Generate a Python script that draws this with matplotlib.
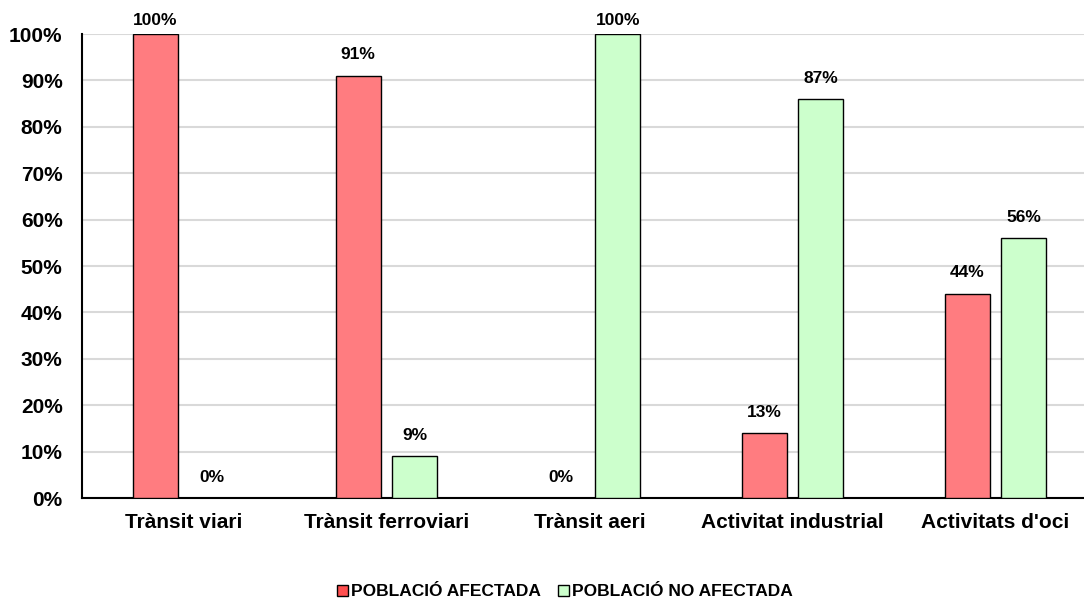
import numpy as np
import matplotlib.pyplot as plt
from matplotlib.patches import Patch

categories = ['Trànsit viari', 'Trànsit ferroviari', 'Trànsit aeri',
              'Activitat industrial', "Activitats d'oci"]
afectada = [100, 91, 0, 14, 44]
no_afectada = [0, 9, 100, 86, 56]
labels_afectada = ['100%', '91%', '', '13%', '44%']
labels_no_afectada = ['0%', '9%', '100%', '87%', '56%']
label_zero_afectada = '0%'

red = '#FF7C80'
green = '#CCFFCC'

plt.rcParams['font.family'] = ['Liberation Sans', 'DejaVu Sans']
plt.rcParams['font.weight'] = 'bold'

fig = plt.figure(figsize=(10.84, 6.01), dpi=100)
ax = fig.add_axes([82 / 1084, 1 - 498 / 601, 1 - 82 / 1084, (498 - 34) / 601])

x = np.arange(len(categories))
w = 0.222
off = 0.140
ax.bar(x - off, afectada, w, color=red, edgecolor='black', linewidth=1, zorder=3)
ax.bar(x + off, no_afectada, w, color=green, edgecolor='black', linewidth=1, zorder=3)

for i in range(len(categories)):
    la = labels_afectada[i] if afectada[i] > 0 else label_zero_afectada
    ax.text(x[i] - off, min(afectada[i] + 4.5, 103), la, ha='center', va='center',
            fontsize=12.5, fontweight='bold')
    ax.text(x[i] + off, min(no_afectada[i] + 4.5, 103), labels_no_afectada[i],
            ha='center', va='center', fontsize=12.5, fontweight='bold')

ax.set_ylim(0, 100)
ax.set_xlim(-0.5, 4.5 - 13 / 203)
ax.set_yticks(np.arange(0, 101, 10))
ax.set_yticklabels([f'{v}%' for v in range(0, 101, 10)], fontsize=15, fontweight='bold')
ax.set_xticks(x)
ax.set_xticklabels(categories, fontsize=15, fontweight='bold')
ax.tick_params(axis='y', length=0, pad=14)
ax.tick_params(axis='x', length=0, pad=11)
ax.yaxis.grid(True, color='#D9D9D9', linewidth=1.5, zorder=0)
ax.set_axisbelow(True)
for s in ['top', 'right']:
    ax.spines[s].set_visible(False)
ax.spines['left'].set_linewidth(1.5)
ax.spines['bottom'].set_linewidth(1.5)

handles = [Patch(facecolor='#FF4F4F', edgecolor='black', label='POBLACIÓ AFECTADA'),
           Patch(facecolor=green, edgecolor='black', label='POBLACIÓ NO AFECTADA')]
fig.legend(handles=handles, loc='center', bbox_to_anchor=(565 / 1084, 1 - 592 / 601),
           ncol=2, frameon=False, prop={'size': 12.5, 'weight': 'bold'},
           handlelength=0.6, handleheight=0.6, handletextpad=0.2, columnspacing=1.0)

fig.savefig('out.png', dpi=100)
